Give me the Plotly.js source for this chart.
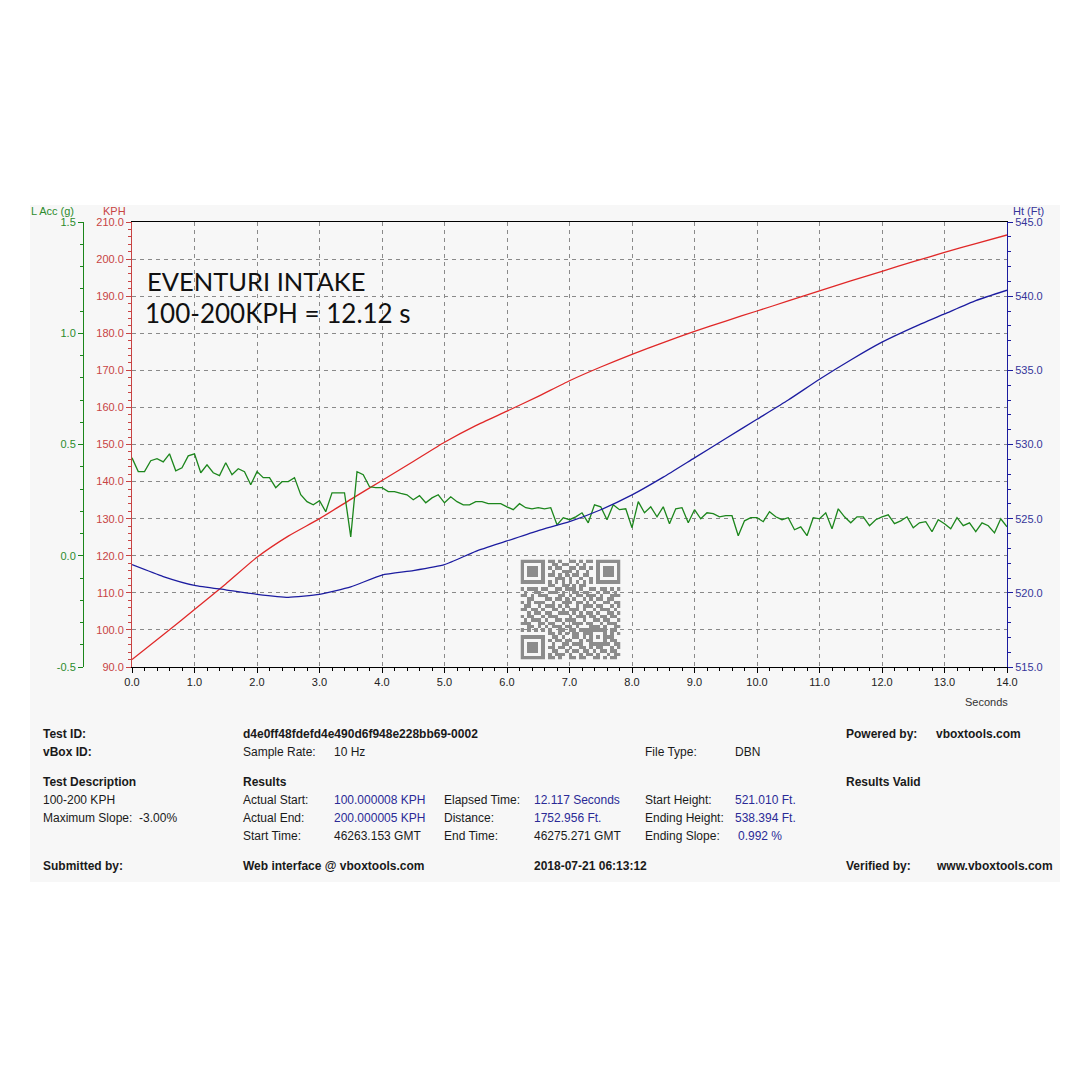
<!DOCTYPE html>
<html>
<head>
<meta charset="utf-8">
<script src="https://cdn.plot.ly/plotly-3.0.1.min.js"></script>
<style>html,body{margin:0;padding:0;background:#fff;}#chart{width:1089px;height:1089px;}</style>
</head>
<body>
<div id="chart"></div>
<script>
// ---------- DATA ----------
const SAMPLE_RATE_HZ = 10;

// Lateral acceleration (g), 10 Hz samples from 0.0 s to 14.0 s
const latAcc = [
  0.440,0.378,0.378,0.427,0.436,0.422,0.458,0.382,0.395,0.449,
  0.458,0.373,0.409,0.373,0.360,0.418,0.364,0.391,0.378,0.319,
  0.378,0.351,0.351,0.306,0.333,0.333,0.351,0.274,0.243,0.229,
  0.247,0.198,0.283,0.283,0.283,0.085,0.378,0.364,0.310,0.306,
  0.306,0.288,0.288,0.280,0.274,0.252,0.270,0.238,0.260,0.274,
  0.238,0.265,0.243,0.229,0.229,0.243,0.243,0.234,0.234,0.234,
  0.220,0.207,0.234,0.216,0.211,0.216,0.211,0.216,0.139,0.171,
  0.162,0.175,0.193,0.148,0.229,0.220,0.162,0.229,0.207,0.211,
  0.126,0.243,0.193,0.220,0.175,0.220,0.144,0.211,0.216,0.148,
  0.207,0.166,0.193,0.189,0.175,0.180,0.180,0.090,0.157,0.171,
  0.171,0.153,0.198,0.175,0.162,0.171,0.117,0.130,0.090,0.171,
  0.166,0.193,0.121,0.211,0.175,0.148,0.175,0.175,0.135,0.162,
  0.175,0.184,0.144,0.157,0.175,0.126,0.148,0.153,0.108,0.162,
  0.144,0.121,0.171,0.135,0.148,0.108,0.148,0.135,0.103,0.166,
  0.130
];
const accTime = latAcc.map((_, i) => i / SAMPLE_RATE_HZ);

// Speed (KPH) and height (ft), read every 0.5 s
const curveTime = [0,0.5,1,1.5,2,2.5,3,3.5,4,4.5,5,5.5,6,6.5,7,7.5,8,8.5,9,9.5,10,10.5,11,11.5,12,12.5,13,13.5,14];
const speedKph = [92,98.7,105.5,112.4,119.6,125.3,130,135.2,140.3,145.4,150.6,155.1,159,163,167.2,170.9,174.3,177.5,180.5,183.3,186.0,188.7,191.4,194.1,196.7,199.3,201.8,204.2,206.5];
const heightFt = [521.9,521.1,520.5,520.2,519.9,519.7,519.9,520.4,521.2,521.5,521.9,522.8,523.5,524.2,524.8,525.6,526.6,527.8,529.1,530.4,531.7,533.0,534.4,535.7,536.9,537.9,538.8,539.7,540.4];

// Axis tick labels
const xTicks = [0,1,2,3,4,5,6,7,8,9,10,11,12,13,14];
const kphTicks = [90,100,110,120,130,140,150,160,170,180,190,200,210];
const accTicks = [-0.5,0,0.5,1.0,1.5];
const htTicks = [515,520,525,530,535,540,545];

// Chart texts
const titleLine1 = "EVENTURI INTAKE";
const titleLine2 = "100-200KPH = 12.12 s";

// QR code (decorative) modules
const F = ["1111111","1000001","1011101","1011101","1011101","1000001","1111111"];
const qrRows = [
  F[0]+"0"+"1101001101011"+"0"+F[0],
  F[1]+"0"+"0110110010100"+"0"+F[1],
  F[2]+"0"+"1011001101101"+"0"+F[2],
  F[3]+"0"+"0100111010010"+"0"+F[3],
  F[4]+"0"+"1101010110110"+"0"+F[4],
  F[5]+"0"+"0011101001001"+"0"+F[5],
  F[6]+"0"+"1010101010101"+"0"+F[6],
  "00000000"+"1100110101100"+"00000000",
  "10111011001101110100110110101",
  "01001100111010011011001011010",
  "11010111000110101101110100111",
  "00110001101101010010101101100",
  "10101110010011101101010011011",
  "01100101110101001011101100101",
  "11011010011010111010010111010",
  "00101101100111010101101001101",
  "10110010111000101110110110110",
  "01011101001101110010011011001",
  "11100110110010011101100101110",
  "00110101011101101000111010011",
  "10101010100110110111"+"11111"+"0110",
  "00000000"+"110101011011"+"10001"+"0101",
  F[0]+"0"+"011010011010"+"10101"+"1100",
  F[1]+"0"+"101101100101"+"10001"+"0110",
  F[2]+"0"+"010011011100"+"11111"+"1011",
  F[3]+"0"+"110110100110101100101",
  F[4]+"0"+"011001011011010110110",
  F[5]+"0"+"101110100101101001011",
  F[6]+"0"+"110100110110011010110"
];
const qrZ = qrRows.map(r => r.split("").map(Number));

// Results table
const tableRows = [
  // [text, x px, y px, bold, color]
  ["Test ID:",43,734,true,"k"],["d4e0ff48fdefd4e490d6f948e228bb69-0002",243,734,true,"k"],
  ["Powered by:",846,734,true,"k"],["vboxtools.com",936,734,true,"k"],
  ["vBox ID:",43,752,true,"k"],["Sample Rate:",243,752,false,"k"],["10 Hz",334,752,false,"k"],
  ["File Type:",645,752,false,"k"],["DBN",735,752,false,"k"],
  ["Test Description",43,782,true,"k"],["Results",243,782,true,"k"],["Results Valid",846,782,true,"k"],
  ["100-200 KPH",43,800,false,"k"],["Actual Start:",243,800,false,"k"],["100.000008 KPH",334,800,false,"b"],
  ["Elapsed Time:",444,800,false,"k"],["12.117 Seconds",534,800,false,"b"],
  ["Start Height:",645,800,false,"k"],["521.010 Ft.",735,800,false,"b"],
  ["Maximum Slope:  -3.00%",43,818,false,"k"],["Actual End:",243,818,false,"k"],["200.000005 KPH",334,818,false,"b"],
  ["Distance:",444,818,false,"k"],["1752.956 Ft.",534,818,false,"b"],
  ["Ending Height:",645,818,false,"k"],["538.394 Ft.",735,818,false,"b"],
  ["Start Time:",243,836,false,"k"],["46263.153 GMT",334,836,false,"k"],
  ["End Time:",444,836,false,"k"],["46275.271 GMT",534,836,false,"k"],
  ["Ending Slope:",645,836,false,"k"],["0.992 %",738,836,false,"b"],
  ["Submitted by:",43,866,true,"k"],["Web interface @ vboxtools.com",243,866,true,"k"],
  ["2018-07-21 06:13:12",534,866,true,"k"],["Verified by:",846,866,true,"k"],["www.vboxtools.com",936,866,true,"k"]
];

// ---------- LAYOUT HELPERS ----------
const W = 1089, H = 1089;
const px = x => x / W;
const py = y => 1 - y / H;
const PL = 132, PR = 1007, PT = 222, PB = 667;

const RED = "#e02828", RED_T = "#c84444";
const GREEN = "#1c861c", GREEN_T = "#2c8c2c";
const BLUE = "#1c1ca0", BLUE_T = "#35359a";
const GRID = "#8a8a8a";
const TICKF = {family: "Liberation Sans, Arial, sans-serif", size: 11};

const traces = [
  {x: accTime, y: latAcc, yaxis: "y2", xaxis: "x", mode: "lines", line: {color: GREEN, width: 1.3}, hoverinfo: "skip"},
  {x: curveTime, y: speedKph, yaxis: "y", xaxis: "x", mode: "lines", line: {color: RED, width: 1.3, shape: "spline", smoothing: 0.5}, hoverinfo: "skip"},
  {x: curveTime, y: heightFt, yaxis: "y3", xaxis: "x", mode: "lines", line: {color: BLUE, width: 1.3, shape: "spline", smoothing: 0.5}, hoverinfo: "skip"},
  {z: qrZ, type: "heatmap", xaxis: "x2", yaxis: "y4", colorscale: [[0, "rgba(0,0,0,0)"], [1, "#8c8c8c"]],
   zmin: 0, zmax: 1, showscale: false, hoverinfo: "skip"}
];

const annotations = [];
function ann(text, x, y, opts) {
  annotations.push(Object.assign({text: text, x: px(x), y: py(y), xref: "paper", yref: "paper",
    showarrow: false, xanchor: "left", yanchor: "middle"}, opts || {}));
}
ann(titleLine1, 145, 281, {font: {family: "Lato, sans-serif", size: 25.5, color: "#111"}});
ann(titleLine2, 143, 313, {font: {family: "Lato, sans-serif", size: 26, color: "#111"}});
ann("L Acc (g)", 53, 211, {xanchor: "center", font: {family: TICKF.family, size: 11, color: GREEN_T}});
ann("KPH", 114, 211, {xanchor: "center", font: {family: TICKF.family, size: 11, color: RED_T}});
ann("Ht (Ft)", 1028, 211, {xanchor: "center", font: {family: TICKF.family, size: 11, color: BLUE_T}});
ann("Seconds", 986, 702, {xanchor: "center", font: {family: TICKF.family, size: 11, color: "#333"}});
tableRows.forEach(r => {
  ann(r[3] ? "<b>" + r[0] + "</b>" : r[0], r[1] - 2, r[2],
      {font: {family: "Liberation Sans, Arial, sans-serif", size: 12, color: r[4] === "b" ? "#2a2a96" : "#1a1a1a"}});
});

const layout = {
  width: W, height: H,
  margin: {l: 0, r: 0, t: 0, b: 0},
  paper_bgcolor: "#ffffff",
  plot_bgcolor: "rgba(0,0,0,0)",
  showlegend: false,
  xaxis: {
    domain: [px(PL), px(PR)], range: [0, 14], anchor: "y",
    tickvals: xTicks, ticktext: xTicks.map(v => v.toFixed(1)),
    ticks: "outside", ticklen: 5, tickcolor: "#000", tickfont: Object.assign({color: "#222"}, TICKF),
    showline: true, linecolor: "#000", linewidth: 1, mirror: true,
    showgrid: true, gridcolor: GRID, griddash: "4px,4px", gridwidth: 1, zeroline: false,
    minor: {dtick: 0.2, ticks: "outside", ticklen: 3, tickcolor: "#000", showgrid: false}
  },
  yaxis: {
    domain: [py(PB), py(PT)], range: [90, 210], anchor: "x", side: "left",
    tickvals: kphTicks, ticktext: kphTicks.map(v => v.toFixed(1)),
    ticks: "outside", ticklen: 5, tickcolor: RED_T, tickfont: Object.assign({color: RED_T}, TICKF),
    showline: true, linecolor: RED_T, linewidth: 1,
    showgrid: true, gridcolor: GRID, griddash: "4px,4px", gridwidth: 1, zeroline: false,
    minor: {dtick: 2, ticks: "outside", ticklen: 3, tickcolor: RED_T, showgrid: false}
  },
  yaxis2: {
    overlaying: "y", anchor: "free", position: px(83), side: "left", range: [-0.5, 1.5],
    tickvals: accTicks, ticktext: accTicks.map(v => v.toFixed(1)),
    ticks: "outside", ticklen: 5, tickcolor: GREEN, tickfont: Object.assign({color: GREEN_T}, TICKF),
    showline: true, linecolor: GREEN, linewidth: 1, showgrid: false, zeroline: false,
    minor: {dtick: 0.1, ticks: "outside", ticklen: 3, tickcolor: GREEN, showgrid: false}
  },
  yaxis3: {
    overlaying: "y", anchor: "x", side: "right", range: [515, 545],
    tickvals: htTicks, ticktext: htTicks.map(v => v.toFixed(1)),
    ticks: "outside", ticklen: 5, tickcolor: BLUE, tickfont: Object.assign({color: BLUE_T}, TICKF),
    showline: true, linecolor: BLUE, linewidth: 1, showgrid: false, zeroline: false,
    minor: {dtick: 1, ticks: "outside", ticklen: 3, tickcolor: BLUE, showgrid: false}
  },
  xaxis2: {domain: [px(520.5), px(620.5)], range: [-0.5, 28.5], anchor: "y4", visible: false, fixedrange: true},
  yaxis4: {domain: [py(659.5), py(559.5)], range: [28.5, -0.5], anchor: "x2", visible: false, fixedrange: true},
  shapes: [
    {type: "rect", xref: "paper", yref: "paper", x0: px(30), x1: px(1060), y0: py(882), y1: py(205),
     fillcolor: "#f7f7f7", line: {width: 0}, layer: "below"}
  ],
  annotations: annotations
};

Plotly.newPlot("chart", traces, layout, {displayModeBar: false, staticPlot: true});
</script>
</body>
</html>
